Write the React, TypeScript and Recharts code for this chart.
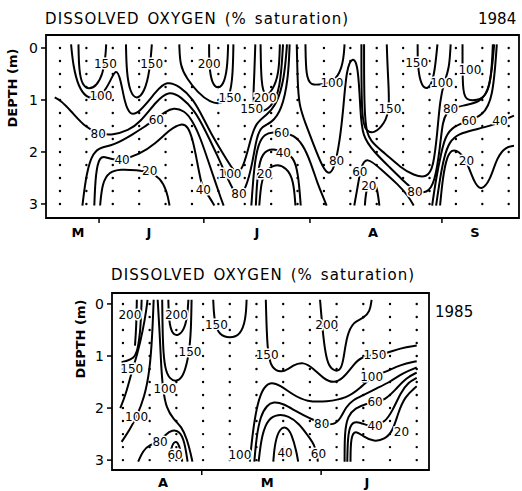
import React from "react";
import { ComposedChart, Line, Scatter, XAxis, YAxis, ReferenceArea } from "recharts";

type P = [number, number];

const FONT = "'DejaVu Sans', sans-serif";

// sampling grid: x in sampling-week index, y in depth (m)
const weeks84 = [0, 1, 2, 3, 4, 5, 6, 7, 8, 9, 10, 11, 12, 13, 14, 15, 16, 17];
const weeks85 = [0, 1, 2, 3, 4, 5, 6, 7, 8, 9, 10, 11];
const depthRows = [0, 0.25, 0.5, 0.75, 1, 1.25, 1.5, 1.75, 2, 2.25, 2.5, 2.75, 3];
const depthTicks = [0, 1, 2, 3];

const monthEdges84 = [1.48, 5.45, 9.47, 14.47];
const monthMid84 = [0.68, 3.37, 7.46, 11.86, 15.72];
const monthNames84 = ["M", "J", "J", "A", "S"];
const monthEdges85 = [2.95, 7.42];
const monthMid85 = [1.5, 5.4, 9.14];
const monthNames85 = ["A", "M", "J"];

// ---- 1984 isolines (week, depth) ----
const ox84_150a: P[] = [[0.7, -0.07], [0.72, 0.45], [0.85, 0.72], [1.1, 0.8], [1.4, 0.72], [1.62, 0.5], [1.72, 0.2], [1.75, -0.07]];
const ox84_100a: P[] = [[0.42, -0.07], [0.5, 0.35], [0.7, 0.75], [1.0, 0.95], [1.3, 0.98], [1.6, 0.9], [1.9, 0.65], [2.12, 0.38], [2.3, 0.6], [2.45, 1.05], [2.65, 1.3], [3.0, 1.25], [3.66, 0.82], [4.04, 0.63], [4.55, 0.74], [5.05, 0.98], [5.43, 1.35], [5.8, 1.72], [6.2, 2.05], [6.5, 2.3], [6.7, 2.42], [6.95, 2.3], [7.2, 1.8], [7.4, 1.45], [7.8, 1.3], [8.2, 1.1], [8.5, 0.6], [8.6, -0.07]];
const ox84_150b: P[] = [[2.5, -0.07], [2.52, 0.45], [2.65, 0.85], [2.9, 1.0], [3.2, 0.85], [3.4, 0.45], [3.48, -0.07]];
const ox84_150c: P[] = [[4.52, -0.07], [4.55, 0.35], [4.8, 0.58], [5.2, 0.85], [5.7, 1.05], [6.1, 1.08], [6.44, 0.95], [6.55, 0.5], [6.57, -0.07]];
const ox84_200a: P[] = [[5.65, -0.07], [5.65, 0.35], [5.75, 0.68], [6.0, 0.8], [6.25, 0.65], [6.35, 0.3], [6.37, -0.07]];
const ox84_150d: P[] = [[7.4, -0.07], [7.35, 0.7], [7.3, 1.1], [7.55, 1.25], [8.0, 1.15], [8.35, 0.8], [8.45, -0.07]];
const ox84_200b: P[] = [[7.6, -0.07], [7.62, 0.7], [7.77, 0.95], [8.05, 0.82], [8.3, 0.5], [8.33, -0.07]];
const ox84_80a: P[] = [[-0.2, 0.95], [0.0, 1.0], [0.4, 1.2], [0.9, 1.5], [1.45, 1.65], [2.0, 1.68], [2.6, 1.58], [3.0, 1.45], [3.66, 1.02], [4.1, 0.82], [4.6, 0.94], [5.1, 1.2], [5.5, 1.58], [5.9, 2.0], [6.3, 2.45], [6.6, 2.78], [6.8, 2.85], [7.05, 2.7], [7.3, 2.2], [7.45, 1.7], [7.65, 1.5], [8.0, 1.45], [8.4, 1.2], [8.65, 0.6], [8.7, -0.07]];
const ox84_60a: P[] = [[0.85, 3.03], [1.0, 2.4], [1.25, 2.0], [1.6, 1.9], [2.0, 1.88], [2.8, 1.65], [3.3, 1.48], [3.65, 1.37], [4.0, 1.22], [4.3, 1.15], [4.7, 1.2], [5.0, 1.38], [5.3, 1.7], [5.6, 2.15], [5.9, 2.6], [6.1, 2.9], [6.2, 3.03]];
const ox84_40a: P[] = [[1.3, 3.03], [1.35, 2.4], [1.5, 2.08], [1.75, 2.1], [2.0, 2.15], [2.35, 2.15], [3.0, 2.05], [3.6, 1.85], [4.2, 1.55], [4.6, 1.45], [4.85, 1.5], [5.05, 1.8], [5.2, 2.2], [5.35, 2.6], [5.45, 2.72], [5.7, 2.9], [5.85, 3.03]];
const ox84_20a: P[] = [[1.52, 3.03], [1.6, 2.6], [1.85, 2.38], [2.3, 2.33], [2.9, 2.35], [3.4, 2.38], [3.8, 2.5], [4.05, 2.75], [4.15, 3.03]];
const ox84_20b: P[] = [[7.55, 3.03], [7.62, 2.6], [7.75, 2.4], [8.1, 2.22], [8.6, 2.3], [8.85, 2.55], [8.92, 3.03]];
const ox84_40b: P[] = [[7.42, 3.03], [7.48, 2.4], [7.65, 2.0], [8.08, 1.93], [8.46, 2.0], [8.84, 2.08], [9.03, 2.41], [9.12, 3.03]];
const ox84_60b: P[] = [[7.25, 3.03], [7.35, 2.3], [7.5, 1.85], [7.75, 1.65], [8.08, 1.62], [8.4, 1.62], [8.84, 1.67], [9.2, 1.85], [9.5, 2.2], [9.75, 2.6], [10.0, 2.9], [10.1, 3.03]];
const ox84_80b: P[] = [[8.97, -0.07], [9.0, 0.6], [9.05, 1.1], [9.3, 1.45], [9.6, 1.85], [9.95, 2.3], [10.2, 2.45], [10.4, 2.3], [10.6, 1.8], [10.75, 1.1], [10.85, 0.4], [11.1, 0.15], [11.3, 0.35], [11.38, 1.2], [11.45, 1.7], [11.9, 2.0], [12.5, 2.3], [13.0, 2.55], [13.45, 2.76], [13.9, 2.8], [14.2, 2.6], [14.4, 1.9], [14.5, 1.4], [14.65, 1.25], [14.8, 1.17], [15.3, 1.1], [15.9, 1.05], [16.3, 0.8], [16.45, -0.07]];
const ox84_100b: P[] = [[9.3, -0.07], [9.32, 0.55], [9.5, 0.72], [9.9, 0.7], [10.3, 0.66], [10.6, 0.5], [10.75, 0.2], [10.78, -0.07]];
const ox84_150e: P[] = [[11.42, -0.07], [11.42, 1.4], [11.6, 1.6], [11.9, 1.65], [12.3, 1.45], [12.5, 1.17], [12.42, 0.5], [12.38, -0.07]];
const ox84_100c: P[] = [[11.52, -0.07], [11.52, 1.5], [11.75, 1.8], [12.3, 2.02], [12.9, 2.3], [13.4, 2.45], [13.9, 2.5], [14.15, 2.3], [14.3, 1.6], [14.4, 1.0], [14.55, 0.66], [14.75, 0.4], [14.8, -0.07]];
const ox84_150f: P[] = [[13.55, -0.07], [13.55, 0.28], [13.62, 0.6], [13.8, 0.8], [14.05, 0.75], [14.2, 0.45], [14.3, -0.07]];
const ox84_60c: P[] = [[11.15, 3.03], [11.3, 2.6], [11.4, 2.3], [11.6, 2.08], [12.2, 2.35], [12.8, 2.62], [13.2, 2.85], [13.4, 3.03]];
const ox84_20c: P[] = [[11.55, 3.03], [11.6, 2.7], [11.8, 2.55], [12.0, 2.62], [12.1, 3.03]];
const ox84_60d: P[] = [[14.1, 3.03], [14.25, 2.5], [14.45, 2.0], [14.6, 1.7], [14.9, 1.5], [15.5, 1.4], [16.0, 1.3], [16.4, 1.0], [16.55, -0.07]];
const ox84_40c: P[] = [[14.25, 3.03], [14.4, 2.5], [14.55, 2.1], [14.75, 1.8], [15.1, 1.65], [15.7, 1.57], [16.3, 1.5], [16.67, 1.42], [17.2, 1.3]];
const ox84_20d: P[] = [[14.4, 3.03], [14.5, 2.5], [14.65, 2.1], [14.85, 1.95], [15.1, 1.98], [15.4, 2.16], [15.7, 2.6], [15.95, 2.75], [16.3, 2.55], [16.55, 2.1], [16.9, 1.9], [17.2, 1.88]];
const ox84_100d: P[] = [[15.25, -0.07], [15.25, 0.8], [15.35, 1.0], [15.8, 1.02], [16.2, 0.9], [16.35, 0.5], [16.4, -0.07]];

const lines84 = [
  ox84_150a, ox84_100a, ox84_150b, ox84_150c, ox84_200a, ox84_150d, ox84_200b, ox84_80a,
  ox84_60a, ox84_40a, ox84_20a, ox84_20b, ox84_40b, ox84_60b, ox84_80b, ox84_100b,
  ox84_150e, ox84_100c, ox84_150f, ox84_60c, ox84_20c, ox84_60d, ox84_40c, ox84_20d, ox84_100d,
];

const labels84: [number, number, string][] = [
  [1.72, 0.3, "150"], [3.47, 0.3, "150"], [5.65, 0.3, "200"], [1.55, 0.92, "100"],
  [1.45, 1.65, "80"], [3.65, 1.37, "60"], [2.35, 2.15, "40"], [3.4, 2.36, "20"],
  [5.43, 2.73, "40"], [6.44, 2.41, "100"], [6.78, 2.8, "80"], [6.44, 0.95, "150"],
  [7.26, 1.17, "150"], [7.77, 0.95, "200"], [7.75, 2.41, "20"], [8.4, 1.62, "60"],
  [8.46, 2.02, "40"], [10.3, 0.66, "100"], [10.48, 2.16, "80"], [11.36, 2.38, "60"],
  [11.7, 2.64, "20"], [12.5, 1.17, "150"], [13.45, 2.76, "80"], [13.51, 0.28, "150"],
  [14.46, 0.66, "100"], [15.53, 0.41, "100"], [14.8, 1.17, "80"], [15.5, 1.4, "60"],
  [16.67, 1.4, "40"], [15.4, 2.16, "20"],
];

// ---- 1985 isolines ----
const ox85_200a: P[] = [[0.52, -0.08], [0.5, 0.45], [0.45, 0.8]];
const ox85_200j: P[] = [[0.7, -0.08], [0.66, 0.5], [0.55, 0.9], [0.4, 1.05], [0.1, 1.1], [-0.05, 1.12]];
const ox85_150a: P[] = [[-0.1, 2.0], [0.1, 1.75], [0.33, 1.3], [0.55, 0.95], [0.75, 0.5], [0.88, 0.1], [0.92, -0.08]];
const ox85_100a: P[] = [[-0.05, 2.65], [0.25, 2.42], [0.51, 2.17], [0.8, 1.8], [1.0, 1.3], [1.1, 0.6], [1.15, -0.08]];
const ox85_100b: P[] = [[1.3, -0.08], [1.38, 0.6], [1.43, 1.2], [1.5, 1.65], [1.62, 2.0], [1.9, 2.22], [2.2, 2.36], [2.4, 2.6], [2.55, 2.9], [2.6, 3.03]];
const ox85_150b: P[] = [[1.47, -0.08], [1.49, 0.8], [1.57, 1.25], [1.75, 1.45], [2.05, 1.5], [2.3, 1.35], [2.48, 0.95], [2.55, 0.5], [2.57, -0.08]];
const ox85_200b: P[] = [[1.7, -0.08], [1.72, 0.35], [1.85, 0.58], [2.05, 0.62], [2.3, 0.5], [2.42, 0.2], [2.45, -0.08]];
const ox85_80a: P[] = [[0.57, 3.03], [0.75, 2.82], [1.0, 2.7], [1.39, 2.65], [1.6, 2.5], [1.85, 2.42], [2.1, 2.44], [2.3, 2.62], [2.42, 3.03]];
const ox85_60a: P[] = [[1.75, 3.03], [1.8, 2.75], [1.95, 2.62], [2.12, 2.7], [2.22, 3.03]];
const ox85_150c: P[] = [[3.38, -0.08], [3.42, 0.35], [3.6, 0.6], [4.0, 0.66], [4.4, 0.6], [4.6, 0.3], [4.63, -0.08]];
const ox85_150d: P[] = [[5.35, -0.08], [5.4, 0.9], [5.55, 1.25], [6.0, 1.33], [6.38, 1.17], [6.75, 1.11], [7.13, 1.24], [7.5, 1.43], [7.88, 1.53], [8.25, 1.43], [8.63, 1.17], [8.9, 1.02], [9.44, 0.98], [9.87, 0.95], [10.37, 0.85], [11.0, 0.8]];
const ox85_200c: P[] = [[7.38, -0.08], [7.5, 0.66], [7.63, 1.1], [7.81, 1.27], [8.13, 1.3], [8.25, 1.11], [8.38, 0.6], [8.63, 0.34], [9.0, 0.28], [9.25, 0.15], [9.31, -0.08]];
const ox85_100c: P[] = [[4.75, 3.03], [4.85, 2.5], [5.0, 2.0], [5.2, 1.65], [5.5, 1.49], [5.88, 1.56], [6.38, 1.75], [6.88, 1.88], [7.63, 1.88], [8.38, 1.81], [8.88, 1.62], [9.31, 1.4], [9.87, 1.3], [10.37, 1.17], [11.0, 1.1]];
const ox85_80b: P[] = [[4.92, 3.03], [5.0, 2.55], [5.15, 2.15], [5.4, 1.94], [5.63, 1.88], [6.0, 1.91], [6.5, 2.07], [7.0, 2.2], [7.44, 2.3], [7.9, 2.33], [8.15, 2.2], [8.35, 1.98], [8.6, 1.85], [9.0, 1.75], [9.5, 1.62], [10.0, 1.5], [10.5, 1.32], [11.0, 1.22]];
const ox85_60b: P[] = [[5.08, 3.03], [5.2, 2.5], [5.45, 2.2], [5.8, 2.12], [6.2, 2.15], [6.6, 2.3], [6.95, 2.55], [7.2, 2.72], [7.3, 3.03]];
const ox85_40a: P[] = [[5.63, 3.03], [5.69, 2.65], [5.88, 2.38], [6.13, 2.36], [6.32, 2.5], [6.5, 2.84], [6.56, 3.03]];
const ox85_60c: P[] = [[8.3, 3.03], [8.3, 2.45], [8.42, 2.15], [8.7, 2.0], [9.1, 1.92], [9.44, 1.88], [9.8, 1.85], [10.2, 1.65], [10.6, 1.42], [11.0, 1.32]];
const ox85_40b: P[] = [[8.4, 3.03], [8.42, 2.45], [8.6, 2.25], [8.9, 2.28], [9.2, 2.35], [9.44, 2.33], [9.8, 2.28], [10.1, 2.05], [10.4, 1.7], [10.7, 1.5], [11.0, 1.42]];
const ox85_20a: P[] = [[8.52, 3.03], [8.53, 2.55], [8.7, 2.42], [9.0, 2.55], [9.4, 2.65], [9.8, 2.6], [10.1, 2.45], [10.3, 2.1], [10.55, 1.78], [11.0, 1.58]];

const lines85 = [
  ox85_200a, ox85_200j, ox85_150a, ox85_100a, ox85_100b, ox85_150b, ox85_200b, ox85_80a,
  ox85_60a, ox85_150c, ox85_150d, ox85_200c, ox85_100c, ox85_80b, ox85_60b, ox85_40a,
  ox85_60c, ox85_40b, ox85_20a,
];

const labels85: [number, number, string][] = [
  [0.26, 0.21, "200"], [2.0, 0.21, "200"], [2.51, 0.92, "150"], [0.33, 1.24, "150"],
  [1.57, 1.62, "100"], [0.51, 2.17, "100"], [1.39, 2.65, "80"], [1.95, 2.9, "60"],
  [3.5, 0.4, "150"], [4.38, 2.9, "100"], [5.4, 0.98, "150"], [7.63, 0.4, "200"],
  [9.44, 0.98, "150"], [9.31, 1.4, "100"], [9.44, 1.88, "60"], [9.44, 2.33, "40"],
  [10.43, 2.45, "20"], [7.44, 2.3, "80"], [6.07, 2.85, "40"], [7.32, 2.87, "60"],
];

const toPts = (pts: P[]) => pts.map(([w, d]) => ({ w, d }));
const grid = (weeks: number[]) => weeks.flatMap((w) => depthRows.map((d) => ({ w, d })));
const toLabels = (ls: [number, number, string][]) => ls.map(([w, d, t]) => ({ w, d, t }));

const MonthTick = (props: any) => {
  const { x, y, payload, edges, mids, names, dy } = props;
  const v = payload.value;
  if (edges.includes(v)) {
    return <line x1={x} x2={x} y1={y} y2={y + 5} stroke="#000" strokeWidth={1.5} />;
  }
  const i = mids.indexOf(v);
  return (
    <text x={x} y={y + dy} textAnchor="middle" fontSize={13} fontFamily={FONT} fontWeight="bold" fill="#000">
      {names[i]}
    </text>
  );
};

const Dot = (p: any) => <circle cx={p.cx} cy={p.cy} r={1.2} fill="#000" />;

const ValueLabel = (p: any) => (
  <text
    x={p.cx}
    y={p.cy}
    dy="0.36em"
    textAnchor="middle"
    fontSize={12}
    fontFamily={FONT}
    fill="#000"
    stroke="#fff"
    strokeWidth={3}
    paintOrder="stroke"
  >
    {p.payload.t}
  </text>
);

interface PanelProps {
  top: number;
  height: number;
  margin: { top: number; right: number; bottom: number; left: number };
  yWidth: number;
  xHeight: number;
  xDomain: [number, number];
  yDomain: [number, number];
  weeks: number[];
  lines: P[][];
  labels: [number, number, string][];
  edges: number[];
  mids: number[];
  names: string[];
  labelDy: number;
}

const Panel = (pp: PanelProps) => {
  const ticks = [...pp.edges, ...pp.mids].sort((a, b) => a - b);
  return (
    <div style={{ position: "absolute", left: 0, top: pp.top }}>
      <ComposedChart width={522} height={pp.height} margin={pp.margin}>
        <XAxis
          dataKey="w"
          type="number"
          domain={pp.xDomain}
          allowDataOverflow
          ticks={ticks}
          interval={0}
          axisLine={false}
          tickLine={false}
          tickSize={0}
          tickMargin={0}
          height={pp.xHeight}
          tick={(t: any) => <MonthTick {...t} edges={pp.edges} mids={pp.mids} names={pp.names} dy={pp.labelDy} />}
        />
        <YAxis
          dataKey="d"
          type="number"
          reversed
          domain={pp.yDomain}
          allowDataOverflow
          ticks={depthTicks}
          width={pp.yWidth}
          axisLine={false}
          tickLine={{ stroke: "#000", strokeWidth: 1.5 }}
          tickSize={5}
          tickMargin={3}
          tick={{ fill: "#000", fontSize: 14, fontFamily: FONT }}
        />
        <ReferenceArea
          x1={pp.xDomain[0]}
          x2={pp.xDomain[1]}
          y1={pp.yDomain[0]}
          y2={pp.yDomain[1]}
          fill="none"
          stroke="#000"
          strokeWidth={1.8}
          ifOverflow="visible"
        />
        <Scatter data={grid(pp.weeks)} shape={Dot} isAnimationActive={false} />
        {pp.lines.map((pts, i) => (
          <Line
            key={i}
            data={toPts(pts)}
            dataKey="d"
            type="basis"
            stroke="#000"
            strokeWidth={2}
            dot={false}
            activeDot={false}
            isAnimationActive={false}
          />
        ))}
        <Scatter data={toLabels(pp.labels)} shape={ValueLabel} isAnimationActive={false} />
      </ComposedChart>
    </div>
  );
};

const titleStyle: React.CSSProperties = {
  position: "absolute",
  fontFamily: FONT,
  fontSize: 15,
  letterSpacing: 1.1,
  wordSpacing: 2,
  lineHeight: "16px",
  whiteSpace: "nowrap",
  color: "#000",
};

const depthStyle = (x: number, y: number): React.CSSProperties => ({
  position: "absolute",
  left: x,
  top: y,
  transform: "translate(-50%, -50%) rotate(-90deg)",
  fontFamily: FONT,
  fontSize: 13,
  fontWeight: "bold",
  whiteSpace: "nowrap",
  lineHeight: "14px",
});

export default function App() {
  return (
    <div style={{ position: "absolute", left: 0, top: 0, width: 522, height: 491, background: "#fff", overflow: "hidden" }}>
      <div style={{ ...titleStyle, left: 45, top: 11 }}>DISSOLVED OXYGEN (% saturation)</div>
      <div style={{ ...titleStyle, letterSpacing: 0, left: 478, top: 11 }}>1984</div>
      <div style={depthStyle(13, 88)}>DEPTH (m)</div>
      <Panel
        top={0}
        height={250}
        margin={{ top: 35, right: 3, bottom: 2, left: 0 }}
        yWidth={46}
        xHeight={30}
        xDomain={[-0.53, 17.39]}
        yDomain={[-0.25, 3.27]}
        weeks={weeks84}
        lines={lines84}
        labels={labels84}
        edges={monthEdges84}
        mids={monthMid84}
        names={monthNames84}
        labelDy={19}
      />
      <div style={{ ...titleStyle, left: 111, top: 267 }}>DISSOLVED OXYGEN (% saturation)</div>
      <div style={{ ...titleStyle, letterSpacing: 0, left: 435, top: 304 }}>1985</div>
      <div style={depthStyle(81, 339)}>DEPTH (m)</div>
      <Panel
        top={258}
        height={233}
        margin={{ top: 35, right: 93, bottom: 1, left: 0 }}
        yWidth={112}
        xHeight={20}
        xDomain={[-0.41, 11.46]}
        yDomain={[-0.21, 3.19]}
        weeks={weeks85}
        lines={lines85}
        labels={labels85}
        edges={monthEdges85}
        mids={monthMid85}
        names={monthNames85}
        labelDy={17}
      />
    </div>
  );
}
